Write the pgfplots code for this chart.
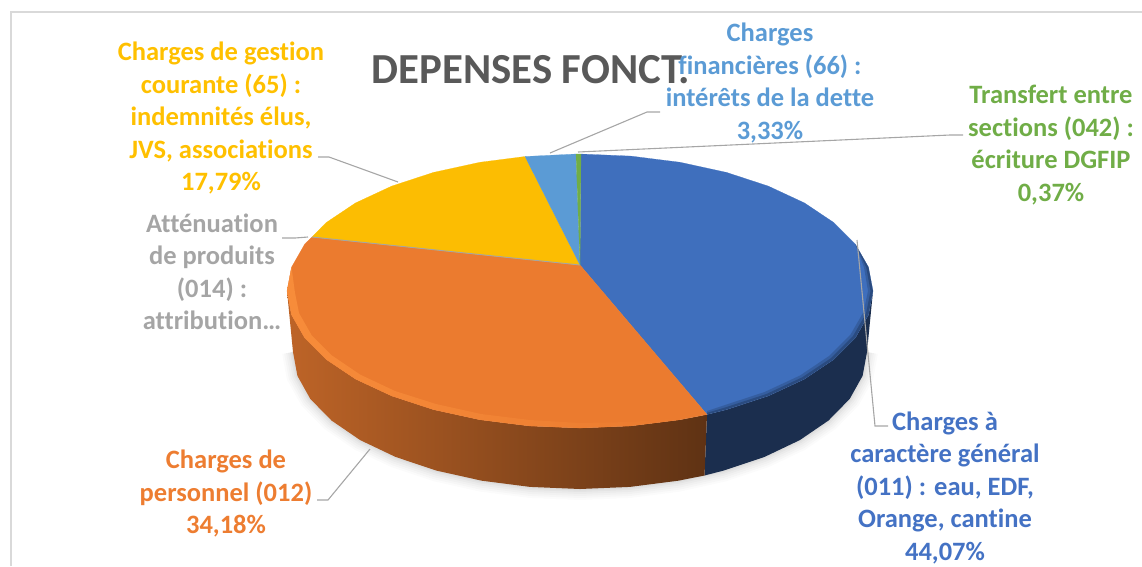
\documentclass[border=0pt]{standalone}
\usepackage{fontspec}
\setmainfont{Carlito}[Ligatures={NoCommon,TeX}]
\usepackage{pgfplots}
\pgfplotsset{compat=1.18}
\definecolor{cblue}{HTML}{4472C4}
\definecolor{corange}{HTML}{ED7D31}
\definecolor{cgray}{HTML}{A5A5A5}
\definecolor{cyellow}{HTML}{FFC000}
\definecolor{clblue}{HTML}{5B9BD5}
\definecolor{cgreen}{HTML}{70AD47}
\definecolor{leader}{HTML}{A6A6A6}
\definecolor{frame}{HTML}{D9D9D9}
\definecolor{fblue}{HTML}{3F6FBD}
\definecolor{forange}{HTML}{EB7B2F}
\definecolor{fyellow}{HTML}{FCBD02}
\definecolor{fbevel}{HTML}{F78C3A}
\tikzset{lbl/.style={font=\fontsize{26.5}{32.5}\selectfont\bfseries, align=center, inner sep=0pt}}

% lower edge of the pie, used for the soft shadow
\pgfplotstableread{
x y
867.0 352.0
862.6 375.8
849.7 398.9
828.5 420.5
799.8 440.1
764.5 456.9
723.5 470.6
678.2 480.7
629.8 486.9
580.0 489.0
530.2 486.9
481.8 480.7
436.5 470.6
395.5 456.9
360.2 440.1
331.5 420.5
310.3 398.9
297.4 375.8
293.0 352.0
}\loweredge

\begin{document}
\begin{tikzpicture}
\useasboundingbox (0,0) rectangle (1142pt,566pt);
\begin{axis}[
    at={(0,0)}, anchor=south west,
    scale only axis, width=1142pt, height=566pt,
    xmin=0, xmax=1142, ymin=0, ymax=566,
    y dir=reverse, hide axis, clip=false,
]
% chart frame
\addplot[frame, line width=1.6pt] coordinates {(11,566) (11,12) (1142,12)};

% shadow
\addplot[black, opacity=0.015, line width=22pt] table {\loweredge};
\addplot[black, opacity=0.02, line width=18pt] table {\loweredge};
\addplot[black, opacity=0.02, line width=14pt] table {\loweredge};
\addplot[black, opacity=0.025, line width=10pt] table {\loweredge};
\addplot[black, opacity=0.03, line width=6pt] table {\loweredge};
\addplot[black, opacity=0.03, line width=3pt] table {\loweredge};

% side walls
\addplot[draw=none, fill=cblue!40!black] coordinates {
 (873,291) (868.5,314.8) (855.3,337.9) (833.7,359.5) (804.4,379.1) (768.3,395.9) (726.5,409.6) (707,414.5)
 (704.5,475.5) (723.5,470.6) (764.5,456.9) (799.8,440.1) (828.5,420.5) (849.7,398.9) (862.6,375.8) (867,352)
} -- cycle;
\addplot[draw=none, left color=black!20!corange, middle color=black!35!corange, right color=black!60!corange] coordinates {
 (707,414.5) (680.2,419.7) (630.9,425.9) (580,428) (529.1,425.9) (479.8,419.7) (433.5,409.6) (391.7,395.9)
 (355.6,379.1) (326.3,359.5) (304.7,337.9) (291.5,314.8) (287,291)
 (293,352) (297.4,375.8) (310.3,398.9) (331.5,420.5) (360.2,440.1) (395.5,456.9) (436.5,470.6) (481.8,480.7)
 (530.2,486.9) (580,489) (629.8,486.9) (678.2,480.7) (704.5,475.5)
} -- cycle;

% top face
\addplot[draw=fblue, line width=0.2pt, fill=fblue] coordinates {
 (580,265) (581,154) (630.9,156.1) (680.2,162.3) (726.5,172.4) (768.3,186.1) (804.4,202.9) (833.7,222.5)
 (855.3,244.1) (868.5,267.2) (873,291) (868.5,314.8) (855.3,337.9) (833.7,359.5) (804.4,379.1) (768.3,395.9)
 (726.5,409.6) (707,414.5)
} -- cycle;
\addplot[draw=forange, line width=0.2pt, fill=forange] coordinates {
 (580,265) (707,414.5) (680.2,419.7) (630.9,425.9) (580,428) (529.1,425.9) (479.8,419.7) (433.5,409.6)
 (391.7,395.9) (355.6,379.1) (326.3,359.5) (304.7,337.9) (291.5,314.8) (287,291) (291.5,267.2) (304.7,244.1)
 (312,237)
} -- cycle;
\addplot[draw=fyellow, line width=0.2pt, fill=fyellow] coordinates {
 (580,265) (312,237) (326.3,222.5) (355.6,202.9) (391.7,186.1) (433.5,172.4) (479.8,162.3) (525,156.5)
} -- cycle;
\addplot[draw=clblue, line width=0.2pt, fill=clblue] coordinates {(580,265) (525,156.5) (576,154)} -- cycle;
\addplot[draw=cgreen, line width=0.2pt, fill=cgreen] coordinates {(580,265) (576,154) (581,154)} -- cycle;
\addplot[draw=cgray, line width=0.9pt] coordinates {(580,265) (312,237)};

% rim bevels
\addplot[draw=none, left color=fbevel, middle color=fbevel, right color=forange] coordinates {
 (291.5,267.2) (287,291) (291.5,314.8) (304.7,337.9) (326.3,359.5) (355.6,379.1) (391.7,395.9) (433.5,409.6)
 (479.8,419.7) (529.1,425.9) (580,428) (630.9,425.9) (680.2,419.7)
 (680,418) (630,422) (580,423) (530,420) (481,414) (436,404) (395,391) (360,374.5) (332,355.5) (311.5,335)
 (299,313) (295,293)
} -- cycle;
\addplot[draw=none, fill=black, opacity=0.15] coordinates {
 (855.3,244.1) (868.5,267.2) (873,291) (868.5,314.8) (855.3,337.9) (833.7,359.5) (804.4,379.1) (768.3,395.9)
 (726.5,409.6) (707,414.5)
 (707,411) (723.5,405.5) (764.5,392) (800,375.5) (829,356) (850.5,334.5) (863.5,312) (868,291) (864,267.5)
} -- cycle;
\addplot[draw=none, fill=black, opacity=0.2] coordinates {
 (855.3,244.1) (868.5,267.2) (873,291) (868.5,314.8) (855.3,337.9) (833.7,359.5) (804.4,379.1) (768.3,395.9)
 (726.5,409.6) (707,414.5)
 (707,412.8) (725,407.5) (766.4,394) (802.2,377.3) (831.4,357.8) (852.9,336.2) (866,313.4) (870.5,291) (866.2,267.4)
} -- cycle;

% leader lines
\addplot[leader, line width=1.1pt] coordinates {(318,157) (329,157) (398,182)};
\addplot[leader, line width=1.1pt] coordinates {(282,238) (295,238) (308,237)};
\addplot[leader, line width=1.1pt] coordinates {(370,449) (328,500) (317,500)};
\addplot[leader, line width=1.1pt] coordinates {(857,240) (875,426) (888,426)};
\addplot[leader, line width=1.1pt] coordinates {(660,112) (647,112) (550,153)};
\addplot[leader, line width=1.1pt] coordinates {(578,152) (950,135) (963,135)};

% title and labels
\node[font=\fontsize{42.8}{46}\selectfont\bfseries, text=black!65, inner sep=0pt] at (axis cs:531,70) {DEPENSES FONCT.};
\node[lbl, text=clblue] at (axis cs:770,83) {Charges\\financières (66) :\\intérêts de la dette\\3,33\%};
\node[lbl, text=cgreen] at (axis cs:1051,145) {Transfert entre\\sections (042) :\\écriture DGFIP\\0,37\%};
\node[lbl, text=cyellow] at (axis cs:221,118) {Charges de gestion\\courante (65) :\\indemnités élus,\\JVS, associations\\17,79\%};
\node[lbl, text=cgray] at (axis cs:212,272) {Atténuation\\de produits\\(014) :\\attribution…};
\node[lbl, text=corange] at (axis cs:226,493.5) {Charges de\\personnel (012)\\34,18\%};
\node[lbl, text=cblue] at (axis cs:945,487.5) {Charges à\\caractère général\\(011) : eau, EDF,\\Orange, cantine\\44,07\%};
\end{axis}
\end{tikzpicture}
\end{document}
